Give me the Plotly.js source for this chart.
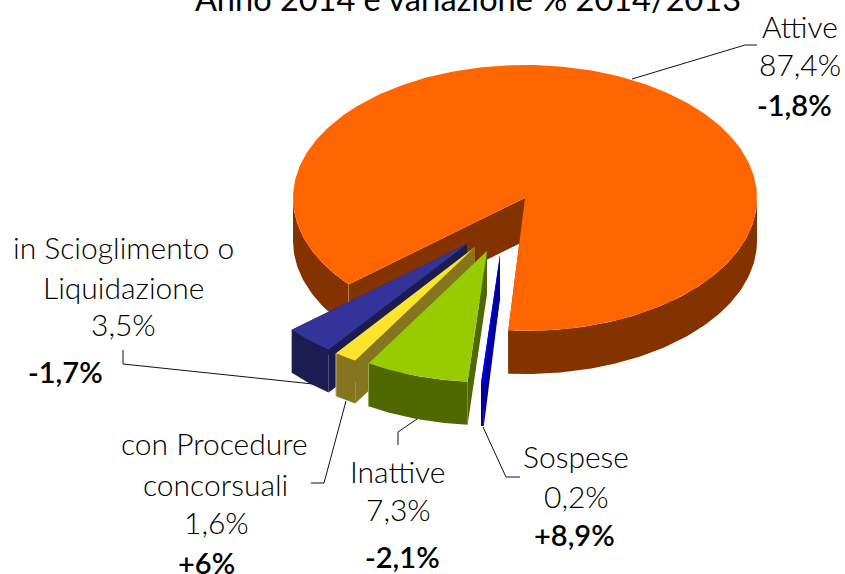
<!DOCTYPE html>
<html>
<head>
<meta charset="utf-8">
<script src="https://cdn.plot.ly/plotly-3.0.1.min.js"></script>
<style>html,body{margin:0;padding:0;background:#fff;overflow:hidden}#chart{width:845px;height:574px}</style>
</head>
<body>
<div id="chart"></div>
<script>
// ---- data ----
const categories = ['Attive', 'Sospese', 'Inattive', 'con Procedure concorsuali', 'in Scioglimento o Liquidazione'];
const shares = [87.4, 0.2, 7.3, 1.6, 3.5];
const shareLabels = ['87,4%', '0,2%', '7,3%', '1,6%', '3,5%'];
const changeLabels = ['-1,8%', '+8,9%', '-2,1%', '+6%', '-1,7%'];
const titleText = 'Anno 2014 e variazione % 2014/2013';

// ---- styling / geometry of the tilted pie ----
const topColors = ['#FF6600', '#0000FF', '#99CC00', '#FAE42C', '#333399'];
const sideColors = ['#843300', '#000099', '#4F6900', '#857520', '#1C1C50'];
const edgeColors = ['#B08050', null, '#9CAB60', '#BDB27A', null];
const pullX = [0, -25, -38, -50, -58];
const pullY = [0, 57, 53, 49, 46];
const radiusScale = [1, 0.965, 0.987, 0.998, 0.993];
const cx = 525, cy = 198, rx = 232, ry = 133, depth = 43, startAngle = 229.5;
const paintOrder = [0, 4, 3, 2, 1];

const rad = d => d * Math.PI / 180;
const total = shares.reduce((a, b) => a + b, 0);
let acc = startAngle;
const spans = shares.map(v => { const s = acc; acc += v / total * 360; return [s, acc]; });

function pt(i, deg) {
  return [cx + pullX[i] + radiusScale[i] * rx * Math.sin(rad(deg)),
          cy + pullY[i] - radiusScale[i] * ry * Math.cos(rad(deg))];
}
function arc(i, a, b) {
  const n = Math.max(2, Math.ceil(Math.abs(b - a)));
  const out = [];
  for (let k = 0; k <= n; k++) out.push(pt(i, a + (b - a) * k / n));
  return out;
}
function poly(points, color, name) {
  return { type: 'scatter', mode: 'lines', fill: 'toself', fillcolor: color,
           x: points.map(p => p[0]), y: points.map(p => p[1]),
           line: { width: 0, color: color }, hoverinfo: name ? 'text' : 'skip',
           hoveron: 'fills', text: name || '', showlegend: false };
}
function path(points, color, width) {
  return { type: 'scatter', mode: 'lines', x: points.map(p => p[0]), y: points.map(p => p[1]),
           line: { width: width, color: color }, hoverinfo: 'skip', showlegend: false };
}
const down = p => [p[0], p[1] + depth];

const traces = [];
paintOrder.forEach(i => {
  const [a, b] = spans[i];
  const apex = [cx + pullX[i], cy + pullY[i]];
  const ca = pt(i, a), cb = pt(i, b);
  // cut faces
  traces.push(poly([apex, ca, down(ca), down(apex)], sideColors[i]));
  traces.push(poly([apex, cb, down(cb), down(apex)], sideColors[i]));
  // outer rim, only the part turned to the viewer (90..270 degrees)
  for (let k = 0; k < 2; k++) {
    const lo = Math.max(a, 90 + 360 * k), hi = Math.min(b, 270 + 360 * k);
    if (hi > lo) {
      const top = arc(i, lo, hi);
      traces.push(poly(top.concat(top.slice().reverse().map(down)), sideColors[i]));
    }
  }
  // top face
  traces.push(poly([apex].concat(arc(i, a, b)), topColors[i],
    categories[i] + ' ' + shareLabels[i] + ' (' + changeLabels[i] + ')'));
  if (edgeColors[i]) {
    const c = i === 0 ? ca : cb;
    traces.push(path([c, down(c)], edgeColors[i], 1));
  }
});

// leader lines
const leaders = [
  [[632, 79], [745, 45], [757, 45]],
  [[483, 427], [506, 477], [520, 477]],
  [[417, 419], [398, 432], [398, 445]],
  [[346, 401], [324, 483], [311, 483]],
  [[313, 384], [123, 364], [123, 350]]
];
leaders.forEach(l => traces.push(path(l, '#111', 1)));

// label lines: text, centre x, centre y, bold
const font = 'Lato, "Open Sans", sans-serif';
function lab(text, x, y, bold) {
  return { text: text, x: x, y: y, xref: 'x', yref: 'y', showarrow: false,
           xanchor: 'center', yanchor: 'middle',
           font: { family: font, size: bold ? 29 : 30, color: '#000', weight: bold ? 600 : 300 } };
}
const annotations = [
  lab(categories[0], 800, 26), lab(shareLabels[0], 800, 64), lab(changeLabels[0], 794, 104, true),
  lab('Sospese', 575.5, 456), lab(shareLabels[1], 576, 496), lab(changeLabels[1], 574.5, 534, true),
  lab('Inattive', 397.5, 471), lab(shareLabels[2], 398, 509), lab(changeLabels[2], 402, 556, true),
  lab('con Procedure', 214.5, 443), lab('concorsuali', 215, 484), lab(shareLabels[3], 216, 522), lab(changeLabels[3], 206, 562, true),
  lab('in Scioglimento o', 123, 247), lab('Liquidazione', 123, 287), lab(shareLabels[4], 123, 324), lab(changeLabels[4], 65, 371, true)
];

const hidden = { visible: false, fixedrange: true };
const layout = {
  width: 845, height: 574,
  margin: { l: 0, r: 0, t: 0, b: 0 },
  paper_bgcolor: '#fff', plot_bgcolor: '#fff',
  showlegend: false,
  title: { text: titleText, x: 468 / 845, xanchor: 'center', y: 1, yanchor: 'middle', automargin: false,
           font: { family: font, size: 32.5, color: '#000' } },
  xaxis: Object.assign({ range: [0, 845] }, hidden),
  yaxis: Object.assign({ range: [574, 0] }, hidden),
  annotations: annotations
};
Plotly.newPlot('chart', traces, layout, { displayModeBar: false });
</script>
</body>
</html>
